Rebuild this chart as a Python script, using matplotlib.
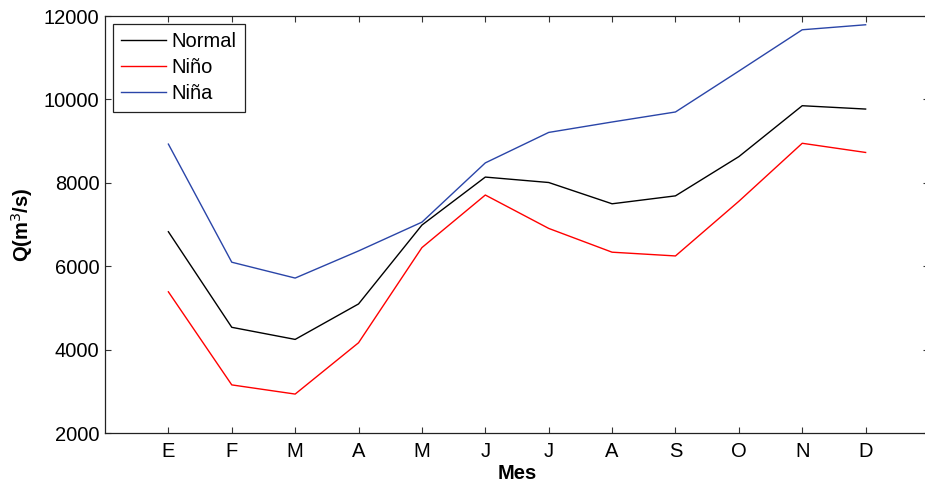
import matplotlib
matplotlib.use("Agg")
import matplotlib.pyplot as plt
import numpy as np

months = ["E", "F", "M", "A", "M", "J", "J", "A", "S", "O", "N", "D"]
normal = [6830, 4540, 4250, 5100, 6990, 8140, 8010, 7500, 7690, 8630, 9850, 9770]
nino = [5390, 3160, 2940, 4170, 6450, 7710, 6910, 6340, 6250, 7560, 8950, 8730]
nina = [8930, 6100, 5720, 6370, 7060, 8480, 9210, 9460, 9700, 10680, 11670, 11790]
yticks = [2000, 4000, 6000, 8000, 10000, 12000]

plt.rcParams['font.family'] = ['Liberation Sans', 'DejaVu Sans']

fig = plt.figure(figsize=(9.25, 4.84), dpi=100)
W, H = 925, 484
ax = fig.add_axes([105 / W, 1 - 433.3 / H, (929 - 105) / W, (433.3 - 16) / H])

x = np.arange(1, len(months) + 1)
ax.plot(x, normal, color='black', lw=1.0, label='Normal')
ax.plot(x, nino, color='#ff0000', lw=1.0, label='Niño')
ax.plot(x, nina, color='#2a45a8', lw=1.0, label='Niña')

ax.set_xlim(0, 13)
ax.set_ylim(2000, 12000)
ax.set_xticks(x)
ax.set_xticklabels(months)
ax.set_yticks(yticks)
ax.tick_params(direction='in', length=4.5, width=0.8, top=True, right=True,
               labelsize=14.5, color='#333333')
ax.tick_params(axis='x', pad=6.5)
ax.tick_params(axis='y', pad=4)
for s in ax.spines.values():
    s.set_linewidth(0.9)
    s.set_color('#222222')

ax.set_xlabel('Mes', fontsize=14.5, fontweight='bold', labelpad=2)
ax.set_ylabel('Q(m$^3$/s)', fontsize=14.5, fontweight='bold', labelpad=6)

leg = ax.legend(loc='upper left', bbox_to_anchor=(113 / W, 1 - 24 / H),
                bbox_transform=fig.transFigure, fontsize=14.5, fancybox=False,
                edgecolor='#222222', framealpha=1, borderpad=0.42,
                handlelength=2.2, handletextpad=0.3, labelspacing=0.34,
                borderaxespad=0)
leg.get_frame().set_linewidth(0.9)

fig.savefig('out.png', dpi=100)
